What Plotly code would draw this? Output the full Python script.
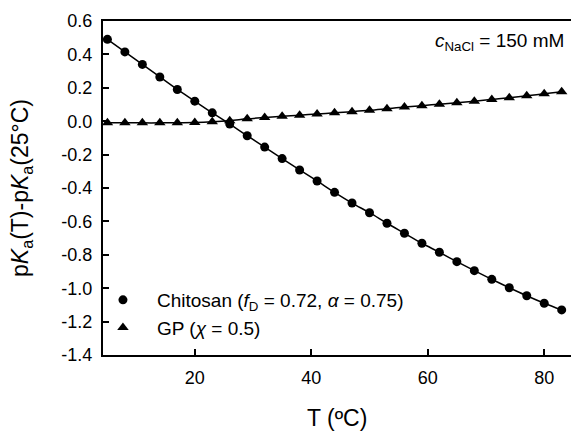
import plotly.graph_objects as go

# ---- data ----
temperature = [5, 8, 11, 14, 17, 20, 23, 26, 29, 32, 35, 38, 41, 44, 47, 50,
               53, 56, 59, 62, 65, 68, 71, 74, 77, 80, 83]
chitosan = [0.49, 0.415, 0.34, 0.265, 0.19, 0.12, 0.05, -0.017, -0.087, -0.155,
            -0.224, -0.292, -0.358, -0.426, -0.49, -0.548, -0.611, -0.671,
            -0.731, -0.785, -0.841, -0.895, -0.947, -0.997, -1.045, -1.09, -1.13]
gp = [-0.01, -0.01, -0.01, -0.01, -0.009, -0.008, -0.004, 0.003, 0.014, 0.022,
      0.029, 0.036, 0.043, 0.05, 0.057, 0.065, 0.075, 0.085, 0.093, 0.102,
      0.111, 0.12, 0.13, 0.141, 0.152, 0.164, 0.176]

x_ticks = [20, 40, 60, 80]
y_ticks = [0.6, 0.4, 0.2, 0.0, -0.2, -0.4, -0.6, -0.8, -1.0, -1.2, -1.4]
y_ticktext = ["0.6", "0.4", "0.2", "0.0", "-0.2", "-0.4", "-0.6", "-0.8",
              "-1.0", "-1.2", "-1.4"]

FONT = "Liberation Sans, Arial, Helvetica, sans-serif"

fig = go.Figure()
# fitted lines
fig.add_trace(go.Scatter(x=temperature, y=chitosan, mode="lines",
                         line=dict(color="black", width=1.5, shape="spline"),
                         showlegend=False, hoverinfo="skip"))
fig.add_trace(go.Scatter(x=temperature, y=gp, mode="lines",
                         line=dict(color="black", width=1.5, shape="spline"),
                         showlegend=False, hoverinfo="skip"))
# markers
fig.add_trace(go.Scatter(x=temperature, y=chitosan, mode="markers",
                         name="Chitosan (<i>f</i><sub>D</sub> = 0.72, <i>α</i> = 0.75)",
                         legendgroup="a",
                         marker=dict(symbol="circle", size=9, color="black")))
fig.add_trace(go.Scatter(x=temperature, y=gp, mode="markers",
                         name="GP (<i>χ</i> = 0.5)",
                         legendgroup="b",
                         marker=dict(symbol="triangle-up", size=10, color="black")))

fig.update_layout(
    width=571, height=431,
    margin=dict(l=103, r=0, t=21, b=76),
    paper_bgcolor="white", plot_bgcolor="white",
    font=dict(family=FONT, size=18, color="black"),
    legend=dict(x=-0.03, xanchor="left", y=0.2216, yanchor="top",
                bgcolor="rgba(0,0,0,0)", font=dict(size=19),
                tracegroupgap=0, itemwidth=58),
    annotations=[
        dict(text="<i>c</i><sub>NaCl</sub> = 150 mM",
             xref="paper", yref="paper", x=0.99, y=0.937,
             xanchor="right", yanchor="middle", showarrow=False,
             font=dict(size=19)),
        dict(text="T (ºC)", xref="paper", yref="paper", x=0.5, y=-0.189,
             xanchor="center", yanchor="middle", showarrow=False,
             font=dict(size=23)),
    ],
)
fig.update_xaxes(range=[4.24, 84.6], tickvals=x_ticks,
                 ticks="inside", ticklen=6, tickwidth=1.5, tickcolor="black",
                 showline=True, linecolor="black", linewidth=2, mirror=True,
                 showgrid=False, zeroline=False, ticklabelstandoff=5)
fig.update_yaxes(range=[-1.4, 0.6], tickvals=y_ticks, ticktext=y_ticktext,
                 ticks="inside", ticklen=6, tickwidth=1.5, tickcolor="black",
                 showline=True, linecolor="black", linewidth=2,
                 showgrid=False, zeroline=False, ticklabelstandoff=5,
                 title=dict(text="p<i>K</i><sub>a</sub>(T)-p<i>K</i><sub>a</sub>(25°C)",
                            font=dict(size=23), standoff=26))

fig.write_html("out.html")
